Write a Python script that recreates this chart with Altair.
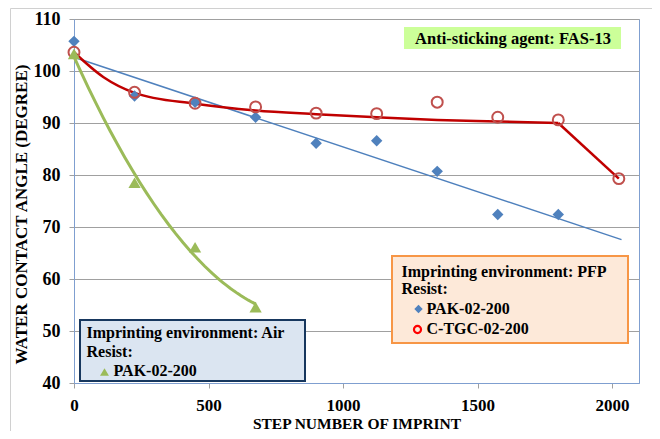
import altair as alt
import pandas as pd

# ---------------- data ----------------
steps = [0, 225, 450, 675, 900, 1125, 1350, 1575, 1800, 2025]
pak_pfp = [105.7, 95.2, 94.0, 91.1, 86.1, 86.6, 80.7, 72.4, 72.4]
ctgc_pfp = [103.6, 95.9, 93.8, 93.1, 91.9, 91.8, 94.0, 91.1, 90.6, 79.3]
pak_air = [103.3, 78.5, 66.1, 54.6]

# red trend curve as drawn in the reference
ctgc_curve_steps = [0, 110, 225, 450, 675, 900, 1125, 1350, 1575, 1800]
ctgc_curve_vals = [103.6, 98.8, 95.8, 93.7, 92.4, 91.7, 91.1, 90.6, 90.3, 90.0]
ctgc_tail_steps = [1800, 2025]
ctgc_tail_vals = [90.0, 79.3]

x_ticks = [0, 500, 1000, 1500, 2000]
y_ticks = [40, 50, 60, 70, 80, 90, 100, 110]

air_lines = ["Imprinting environment: Air", "Resist:", "PAK-02-200"]
pfp_lines = ["Imprinting environment: PFP", "Resist:", "PAK-02-200", "C-TGC-02-200"]
agent_text = "Anti-sticking agent: FAS-13"

df_pak = pd.DataFrame({"step": steps[:len(pak_pfp)], "angle": pak_pfp})
df_ctgc = pd.DataFrame({"step": steps[:len(ctgc_pfp)], "angle": ctgc_pfp})
df_air = pd.DataFrame({"step": steps[:len(pak_air)], "angle": pak_air})
df_curve = pd.DataFrame({"step": ctgc_curve_steps, "angle": ctgc_curve_vals})
df_tail = pd.DataFrame({"step": ctgc_tail_steps, "angle": ctgc_tail_vals})

FONT = "Liberation Serif"
BLUE = "#4f81bd"
RED_M = "#c0504d"
RED_L = "#c00000"
GREEN = "#9bbb59"
FRAME = "#7f9fd0"
GRID = "#a0a0a0"

x_enc = alt.X(
    "step:Q",
    scale=alt.Scale(domain=[0, 2100], nice=False, zero=False),
    axis=alt.Axis(
        values=x_ticks, format="d", grid=False, tickSize=5, tickColor=GRID,
        domainColor=FRAME, labelFont=FONT, labelFontWeight="bold",
        labelFontSize=17, labelColor="black", labelPadding=9,
        labelFlush=False, labelOverlap=False,
        title="STEP NUMBER OF IMPRINT", titleFont=FONT, titleFontWeight="bold",
        titleFontSize=15.5, titleColor="black", titleY=45,
        titleBaseline="alphabetic",
    ),
)
y_enc = alt.Y(
    "angle:Q",
    scale=alt.Scale(domain=[40, 110], nice=False, zero=False),
    axis=alt.Axis(
        values=y_ticks, grid=True, gridColor=GRID, tickSize=5, tickColor=GRID,
        domainColor=FRAME, labelFont=FONT, labelFontWeight="bold",
        labelFontSize=18, labelColor="black", labelPadding=9,
        labelFlush=False, labelOverlap=False,
        title="WATER CONTACT ANGLE (DEGREE)", titleFont=FONT,
        titleFontWeight="bold", titleFontSize=17, titleColor="black",
        titleAngle=270, titleX=-53, titleY=195, titleAlign="center",
        titleBaseline="middle",
    ),
)

blue_trend = alt.Chart(df_pak).transform_regression(
    "step", "angle", method="linear", extent=[0, 2035]
).mark_line(color=BLUE, strokeWidth=1.5).encode(x=x_enc, y=y_enc)

green_trend = alt.Chart(df_air).transform_regression(
    "step", "angle", method="poly", order=2, extent=[0, 675]
).mark_line(color=GREEN, strokeWidth=3).encode(x=x_enc, y=y_enc)

red_trend = alt.Chart(df_curve).mark_line(
    color=RED_L, strokeWidth=2.5, interpolate="monotone"
).encode(x=x_enc, y=y_enc)

red_tail = alt.Chart(df_tail).mark_line(
    color=RED_L, strokeWidth=2.5
).encode(x=x_enc, y=y_enc)

blue_pts = alt.Chart(df_pak).mark_point(
    shape="diamond", filled=True, color=BLUE, size=130, opacity=1
).encode(x=x_enc, y=y_enc)

red_pts = alt.Chart(df_ctgc).mark_point(
    shape="circle", filled=False, color=RED_M, size=120, strokeWidth=2, opacity=1
).encode(x=x_enc, y=y_enc)

green_pts = alt.Chart(df_air).mark_point(
    shape="triangle-up", filled=True, color=GREEN, size=150, opacity=1
).encode(x=x_enc, y=y_enc)

one = pd.DataFrame({"k": [0]})


def box(x1, x2, y1, y2, fill, stroke=None, sw=0):
    kw = dict(fill=fill)
    if stroke:
        kw.update(stroke=stroke, strokeWidth=sw)
    return alt.Chart(one).mark_rect(**kw).encode(
        x=alt.value(x1), x2=alt.value(x2), y=alt.value(y1), y2=alt.value(y2)
    )


def label(txt, x, y, size=16, align="left"):
    return alt.Chart(one).mark_text(
        text=txt, font=FONT, fontWeight="bold", fontSize=size, color="black",
        align=align, baseline="alphabetic",
    ).encode(x=alt.value(x), y=alt.value(y))


def sym(shape, x, y, color, size, filled=True, sw=1):
    return alt.Chart(one).mark_point(
        shape=shape, filled=filled, color=color, size=size, strokeWidth=sw, opacity=1
    ).encode(x=alt.value(x), y=alt.value(y))


outer = [
    alt.Chart(one).mark_rule(color="#d0d0d0", strokeWidth=1).encode(
        x=alt.value(-63.5), y=alt.value(-10.5), y2=alt.value(430)),
    alt.Chart(one).mark_rule(color="#d0d0d0", strokeWidth=1).encode(
        x=alt.value(-63.5), x2=alt.value(600), y=alt.value(-10.5)),
]

annotations = [
    box(330, 547, 8, 30, "#ccff99"),
    label(agent_text, 439, 24.5, size=16.5, align="center"),
    box(318, 554, 237, 324, "#fde9d9", "#f79646", 2),
    label(pfp_lines[0], 327.5, 257.5),
    label(pfp_lines[1], 327.5, 274.5),
    sym("diamond", 344.5, 290, BLUE, 70),
    label(pfp_lines[2], 352.5, 294.5),
    sym("circle", 343.5, 310.5, "#ff0000", 50, filled=False, sw=2.2),
    label(pfp_lines[3], 352.5, 314.5),
    box(6, 231, 301, 362, "#dbe5f1", "#17375e", 2),
    label(air_lines[0], 12.5, 319),
    label(air_lines[1], 12.5, 337.5),
    sym("triangle-up", 30.5, 353, GREEN, 80),
    label(air_lines[2], 39.5, 357),
]

chart = alt.layer(
    *outer,
    blue_trend, red_trend, red_tail, green_trend,
    blue_pts, red_pts, green_pts,
    *annotations,
).properties(
    width=565, height=364,
    autosize=alt.AutoSizeParams(type="none"),
    padding={"left": 66, "top": 11, "right": 13, "bottom": 48},
).configure_view(stroke=FRAME, strokeWidth=1)

chart.save("out.html", embed_options={"renderer": "svg", "actions": False})
